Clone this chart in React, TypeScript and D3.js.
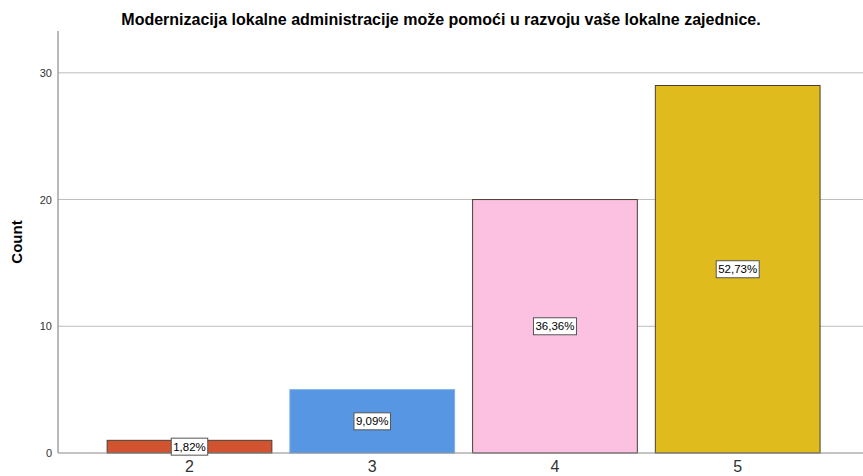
import React from "react";
import * as d3 from "d3";

const categories = ["2", "3", "4", "5"];
const counts = [1, 5, 20, 29];
const percentLabels = ["1,82%", "9,09%", "36,36%", "52,73%"];
const barColors = ["#d2532f", "#5796e3", "#fcc0e0", "#e0bb1e"];
const yTicks = [0, 10, 20, 30];
const title = "Modernizacija lokalne administracije može pomoći u razvoju vaše lokalne zajednice.";

const W = 863;
const H = 476;

export default function App() {
  const left = 58;
  const right = 863;
  const top = 31;
  const bottom = 453;
  const y = d3.scaleLinear().domain([0, 33.3]).range([bottom, top]);
  const x = d3.scalePoint<string>().domain(categories).range([189.5, 737.7]);
  const step = x.step();
  const bw = step * 0.9015;

  return (
    <svg width={W} height={H} style={{ position: "absolute", left: 0, top: 0, background: "#fff" }}
      fontFamily="Arial, 'Liberation Sans', sans-serif">
      <rect width={W} height={H} fill="#fff" />
      <text x={441} y={25} textAnchor="middle" fontSize={16} fontWeight="bold" fill="#000">{title}</text>
      {yTicks.filter(t => t > 0).map(t => (
        <line key={t} x1={left} x2={right} y1={y(t)} y2={y(t)} stroke="#bcbcbc" strokeWidth={1} />
      ))}
      {yTicks.map(t => (
        <text key={"l" + t} x={left - 6} y={y(t) + 4} textAnchor="end" fontSize={11} fill="#333">{t}</text>
      ))}
      <text transform={`translate(22,${242}) rotate(-90)`} textAnchor="middle" fontSize={15} fontWeight="bold" fill="#000">Count</text>
      {categories.map((c, i) => {
        const cx = x(c) as number;
        const y0 = y(counts[i]);
        return (
          <g key={c}>
            <rect x={cx - bw / 2} y={y0} width={bw} height={bottom - y0} fill={barColors[i]}
              stroke={i === 1 ? "#7fb0ec" : "#4a4032"} strokeWidth={1} />
          </g>
        );
      })}
      <line x1={left} x2={left} y1={top} y2={bottom} stroke="#8a8a8a" strokeWidth={1.2} />
      <line x1={left} x2={right} y1={bottom} y2={bottom} stroke="#8a8a8a" strokeWidth={1.2} />
      {categories.map((c, i) => {
        const cx = x(c) as number;
        const my = (y(counts[i]) + bottom) / 2;
        const lw = percentLabels[i].length * 6.5 + 4;
        return (
          <g key={"p" + c}>
            <rect x={cx - lw / 2} y={my - 8.5} width={lw} height={17} fill="#fff" stroke="#555" strokeWidth={1} />
            <text x={cx} y={my + 4} textAnchor="middle" fontSize={11.5} fill="#000">{percentLabels[i]}</text>
          </g>
        );
      })}
      {categories.map(c => (
        <text key={"x" + c} x={x(c) as number} y={472} textAnchor="middle" fontSize={16} fill="#333">{c}</text>
      ))}
    </svg>
  );
}
